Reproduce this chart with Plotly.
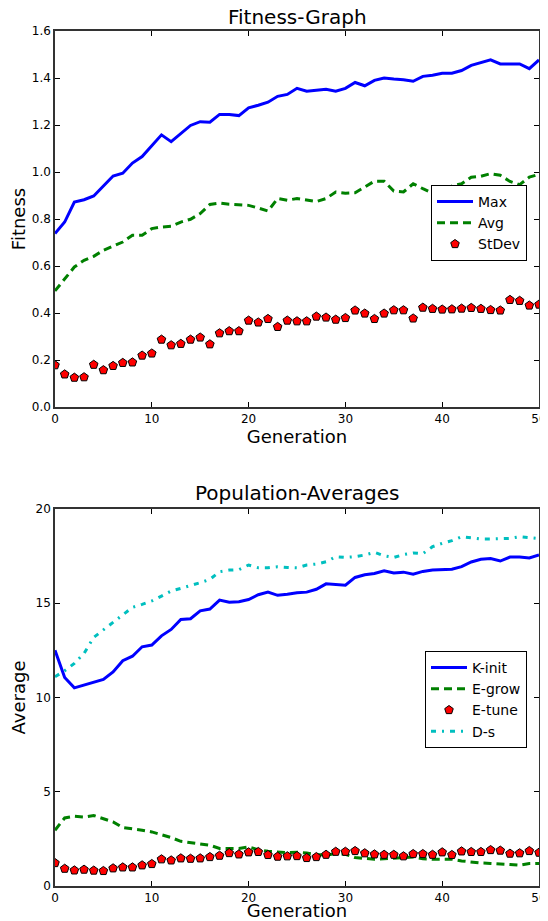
import plotly.graph_objects as go

generations = list(range(51))

fit_max = [0.738, 0.787, 0.872, 0.882, 0.898, 0.940, 0.983, 0.995, 1.038, 1.066,
           1.113, 1.158, 1.129, 1.163, 1.198, 1.214, 1.212, 1.245, 1.245, 1.240,
           1.273, 1.284, 1.297, 1.322, 1.330, 1.356, 1.344, 1.348, 1.352, 1.344,
           1.356, 1.381, 1.367, 1.390, 1.400, 1.396, 1.393, 1.386, 1.407, 1.412,
           1.420, 1.420, 1.432, 1.454, 1.464, 1.477, 1.460, 1.460, 1.460, 1.440,
           1.477]
fit_avg = [0.494, 0.547, 0.596, 0.624, 0.641, 0.667, 0.685, 0.702, 0.731, 0.731,
           0.759, 0.766, 0.769, 0.787, 0.799, 0.823, 0.862, 0.868, 0.863, 0.860,
           0.858, 0.847, 0.834, 0.887, 0.880, 0.887, 0.879, 0.874, 0.887, 0.915,
           0.910, 0.912, 0.936, 0.961, 0.961, 0.919, 0.915, 0.950, 0.929, 0.910,
           0.920, 0.940, 0.950, 0.978, 0.982, 0.993, 0.986, 0.960, 0.946, 0.978,
           0.990]
fit_std = [0.178, 0.139, 0.125, 0.127, 0.180, 0.157, 0.175, 0.188, 0.190, 0.219,
           0.228, 0.287, 0.263, 0.269, 0.287, 0.296, 0.267, 0.314, 0.323, 0.323,
           0.368, 0.360, 0.375, 0.341, 0.368, 0.365, 0.365, 0.385, 0.381, 0.372,
           0.379, 0.411, 0.398, 0.375, 0.398, 0.412, 0.412, 0.377, 0.423, 0.418,
           0.415, 0.416, 0.419, 0.422, 0.418, 0.413, 0.411, 0.456, 0.452, 0.432,
           0.436]

k_init = [12.51, 11.06, 10.51, 10.66, 10.83, 10.96, 11.36, 11.95, 12.19, 12.69,
          12.78, 13.27, 13.61, 14.14, 14.18, 14.60, 14.69, 15.17, 15.05, 15.08,
          15.20, 15.45, 15.59, 15.42, 15.48, 15.56, 15.59, 15.74, 16.03, 16.01,
          15.96, 16.37, 16.51, 16.58, 16.72, 16.61, 16.65, 16.54, 16.69, 16.76,
          16.78, 16.80, 16.94, 17.19, 17.33, 17.37, 17.24, 17.45, 17.45, 17.40,
          17.56]
e_grow = [2.96, 3.61, 3.70, 3.66, 3.74, 3.58, 3.40, 3.10, 3.05, 2.96,
          2.87, 2.74, 2.57, 2.37, 2.30, 2.25, 2.16, 1.99, 1.99, 1.99,
          2.07, 1.93, 1.84, 1.81, 1.77, 1.79, 1.75, 1.67, 1.63, 1.72,
          1.68, 1.51, 1.45, 1.42, 1.44, 1.49, 1.51, 1.54, 1.45, 1.42,
          1.42, 1.42, 1.33, 1.27, 1.22, 1.20, 1.19, 1.14, 1.10, 1.19,
          1.20]
e_tune = [1.22, 0.92, 0.83, 0.87, 0.82, 0.80, 0.94, 0.99, 0.99, 1.10,
          1.17, 1.42, 1.36, 1.47, 1.45, 1.47, 1.54, 1.61, 1.75, 1.68,
          1.79, 1.81, 1.65, 1.56, 1.58, 1.59, 1.49, 1.54, 1.66, 1.82,
          1.82, 1.86, 1.74, 1.68, 1.66, 1.66, 1.58, 1.70, 1.70, 1.66,
          1.79, 1.65, 1.84, 1.81, 1.81, 1.91, 1.88, 1.72, 1.74, 1.86,
          1.77]
d_s = [11.10, 11.42, 11.81, 12.34, 13.19, 13.58, 13.96, 14.37, 14.78, 14.94,
       15.12, 15.38, 15.65, 15.79, 15.93, 16.09, 16.27, 16.67, 16.76, 16.78,
       17.03, 16.88, 16.88, 16.94, 16.90, 16.88, 17.03, 17.08, 17.20, 17.47,
       17.43, 17.47, 17.56, 17.70, 17.52, 17.43, 17.58, 17.67, 17.63, 18.00,
       18.18, 18.32, 18.53, 18.48, 18.41, 18.41, 18.41, 18.44, 18.53, 18.48,
       18.43]

top_yticks = [0.0, 0.2, 0.4, 0.6, 0.8, 1.0, 1.2, 1.4, 1.6]
bot_yticks = [0, 5, 10, 15, 20]
xticks = [0, 10, 20, 30, 40, 50]

FONT = "DejaVu Sans"
BLUE = "#0000ff"
GREEN = "#008000"
RED = "#ff0000"
CYAN = "#00bfbf"

fig = go.Figure()

# Top chart
fig.add_trace(go.Scatter(x=generations, y=fit_max, mode="lines", name="Max",
                         line=dict(color=BLUE, width=3), xaxis="x", yaxis="y", legend="legend"))
fig.add_trace(go.Scatter(x=generations, y=fit_avg, mode="lines", name="Avg",
                         line=dict(color=GREEN, width=3, dash="8px,5px"), xaxis="x", yaxis="y", legend="legend"))
fig.add_trace(go.Scatter(x=generations, y=fit_std, mode="markers", name="StDev",
                         marker=dict(symbol="pentagon", color=RED, size=9,
                                     line=dict(color="black", width=1)),
                         xaxis="x", yaxis="y", legend="legend"))

# Bottom chart
fig.add_trace(go.Scatter(x=generations, y=k_init, mode="lines", name="K-init",
                         line=dict(color=BLUE, width=3), xaxis="x2", yaxis="y2", legend="legend2"))
fig.add_trace(go.Scatter(x=generations, y=e_grow, mode="lines", name="E-grow",
                         line=dict(color=GREEN, width=3, dash="8px,5px"), xaxis="x2", yaxis="y2", legend="legend2"))
fig.add_trace(go.Scatter(x=generations, y=e_tune, mode="markers", name="E-tune",
                         marker=dict(symbol="pentagon", color=RED, size=9,
                                     line=dict(color="black", width=1)),
                         xaxis="x2", yaxis="y2", legend="legend2"))
fig.add_trace(go.Scatter(x=generations, y=d_s, mode="lines", name="D-s",
                         line=dict(color=CYAN, width=3, dash="5px,6px,2px,6px"), xaxis="x2", yaxis="y2", legend="legend2"))

# The page body has an 8px margin, so the figure sits at (8, 8) in the window.
OFF = 8
W, H = 548 - OFF, 921 - OFF


def px_x(p):
    return (p - OFF) / W


def px_y(p):
    return 1 - (p - OFF) / H


xdom = [px_x(55), px_x(539)]
top_dom = [px_y(407), px_y(31)]
bot_dom = [px_y(886), px_y(509)]

axis_common = dict(showline=True, linecolor="#333333", linewidth=1.5, mirror="ticks",
                   ticks="inside", ticklen=5, tickwidth=1, tickcolor="black",
                   showgrid=False, zeroline=False, automargin=False,
                   tickfont=dict(family=FONT, size=12, color="black"))

fig.update_layout(
    width=W, height=H,
    margin=dict(l=0, r=0, t=0, b=0),
    paper_bgcolor="white", plot_bgcolor="white",
    font=dict(family=FONT, color="black"),
    xaxis=dict(domain=xdom, anchor="y", range=[0, 50], tickvals=xticks,
               title=dict(text="Generation", font=dict(size=18), standoff=2), **axis_common),
    yaxis=dict(domain=top_dom, anchor="x", range=[0, 1.6], tickvals=top_yticks,
               tickformat=".1f",
               title=dict(text="Fitness", font=dict(size=18), standoff=11), **axis_common),
    xaxis2=dict(domain=xdom, anchor="y2", range=[0, 50], tickvals=xticks,
                title=dict(text="Generation", font=dict(size=18), standoff=2), **axis_common),
    yaxis2=dict(domain=bot_dom, anchor="x2", range=[0, 20], tickvals=bot_yticks,
                title=dict(text="Average", font=dict(size=18), standoff=11), **axis_common),
    legend=dict(x=px_x(431), y=px_y(185), xanchor="left", yanchor="top",
                bgcolor="white", bordercolor="black", borderwidth=1,
                font=dict(family=FONT, size=14), itemwidth=36),
    legend2=dict(x=px_x(425), y=px_y(651), xanchor="left", yanchor="top",
                 bgcolor="white", bordercolor="black", borderwidth=1,
                 font=dict(family=FONT, size=14), itemwidth=36),
    annotations=[
        dict(text="Fitness-Graph", x=(xdom[0] + xdom[1]) / 2, y=px_y(17),
             xref="paper", yref="paper", showarrow=False, yanchor="middle",
             borderpad=0,
             font=dict(family=FONT, size=20, color="black")),
        dict(text="Population-Averages", x=(xdom[0] + xdom[1]) / 2, y=px_y(493),
             xref="paper", yref="paper", showarrow=False, yanchor="middle",
             borderpad=0,
             font=dict(family=FONT, size=20, color="black")),
    ],
)

fig.write_html("out.html")
